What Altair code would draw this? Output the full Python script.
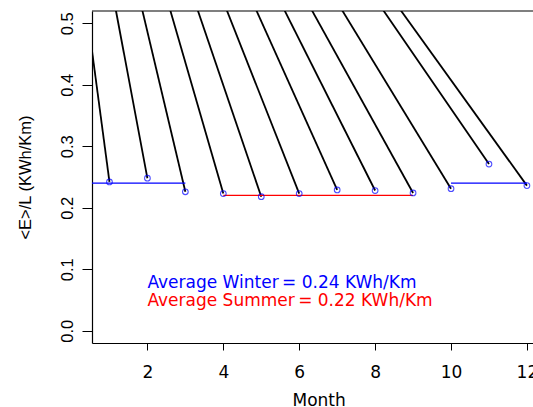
import altair as alt
import pandas as pd

# Monthly mean energy per kilometre
months = [1, 2, 3, 4, 5, 6, 7, 8, 9, 10, 11, 12]
energy_per_km = [0.242, 0.248, 0.226, 0.223, 0.218, 0.223,
                 0.229, 0.228, 0.224, 0.231, 0.271, 0.236]

# far-off point that every monthly guide line runs toward
guide_month = -1.48
guide_value = 1.392

# seasonal averages and the month spans they cover
winter_avg = 0.24
summer_avg = 0.22
season_start = [0, 10, 4]
season_end = [3, 12, 9]
season_level = [winter_avg, winter_avg, summer_avg]
season_color = ["#0000FF", "#0000FF", "#FF0000"]

# annotation lines
label_text = ["Average Winter\u2009= 0.24 KWh/Km", "Average Summer\u2009= 0.22 KWh/Km"]
label_color = ["#0000FF", "#FF0000"]
label_month = [2, 2]
label_value = [0.07, 0.04]

x_ticks = [2, 4, 6, 8, 10, 12]
y_ticks = [0.0, 0.1, 0.2, 0.3, 0.4, 0.5]

points = pd.DataFrame({
    "month": months,
    "value": energy_per_km,
    "gx": [guide_month] * len(months),
    "gy": [guide_value] * len(months),
})
seasons = pd.DataFrame({
    "start": season_start, "end": season_end,
    "level": season_level, "color": season_color,
})
labels = pd.DataFrame({
    "month": label_month, "value": label_value,
    "text": label_text, "color": label_color,
})

x_scale = alt.Scale(domain=[0.54, 12.16], nice=False, zero=False)
y_scale = alt.Scale(domain=[-0.02, 0.52], nice=False, zero=False)

x_axis = alt.Axis(
    values=x_ticks, grid=False, domain=True, domainColor="black", domainWidth=1.2,
    tickColor="black", tickSize=7, tickWidth=1,
    labelFont="DejaVu Sans", labelFontSize=17, labelColor="black",
    labelBaseline="alphabetic", labelPadding=27, labelFlush=False,
    labelOverlap=False, labelBound=False,
    title="Month", titleFont="DejaVu Sans", titleFontSize=17,
    titleFontWeight="normal", titleColor="black",
    titleX=226.6, titleY=62, titleAlign="center", titleBaseline="alphabetic",
)
y_axis = alt.Axis(
    values=y_ticks, format=".1f", grid=False, domain=True, domainColor="black",
    domainWidth=1.2, tickColor="black", tickSize=10, tickWidth=1,
    labelFont="Liberation Sans", labelFontSize=16.5, labelColor="black",
    labelAngle=270, labelAlign="center", labelBaseline="alphabetic",
    labelPadding=10, labelOverlap=False, labelFlush=False,
    title="<E>/L (KWh/Km)", titleFont="Liberation Sans", titleFontSize=16.5,
    titleFontWeight="normal", titleColor="black", titleAngle=270,
    titleX=-62, titleY=166, titleAlign="center", titleBaseline="alphabetic",
)

guides = alt.Chart(points).mark_rule(color="black", strokeWidth=1.8, clip=True).encode(
    x=alt.X("month:Q", scale=x_scale, axis=x_axis),
    y=alt.Y("value:Q", scale=y_scale, axis=y_axis),
    x2="gx:Q",
    y2="gy:Q",
)

season_lines = alt.Chart(seasons).mark_rule(strokeWidth=1.2, clip=True).encode(
    x="start:Q", x2="end:Q", y="level:Q",
    color=alt.Color("color:N", scale=None),
)

dots = alt.Chart(points).mark_point(
    shape="circle", filled=False, color="#0000FF", size=32, strokeWidth=1.1
).encode(x="month:Q", y="value:Q")

notes = alt.Chart(labels).mark_text(
    align="left", baseline="alphabetic", font="DejaVu Sans", fontSize=17
).encode(
    x="month:Q", y="value:Q", text="text:N",
    color=alt.Color("color:N", scale=None),
)

top_frame = alt.Chart(pd.DataFrame({"edge": [0]})).mark_rule(
    color="black", strokeWidth=1.2
).encode(y=alt.value(0))

chart = (
    alt.layer(guides, season_lines, dots, notes, top_frame)
    .properties(
        width=441, height=332,
        autosize=alt.AutoSizeParams(type="none"),
        padding={"left": 92, "top": 11, "right": 0, "bottom": 64},
        background="white",
    )
    .configure_view(stroke=None)
)

chart.save("out.html", embed_options={"renderer": "svg", "actions": False})
